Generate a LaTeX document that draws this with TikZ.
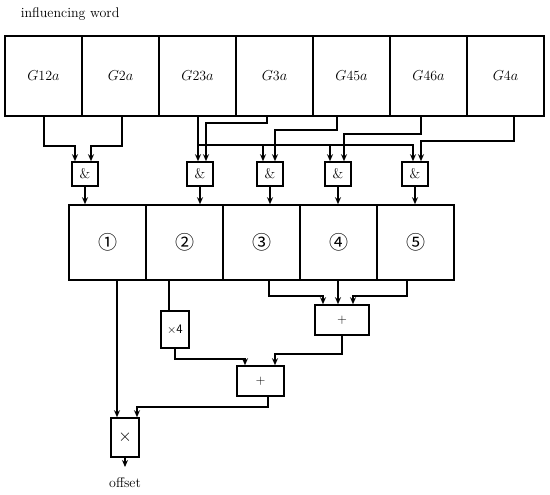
\documentclass[tikz,border=0pt]{standalone}
\usepackage{fontspec}
\newfontfamily\circfont{Noto Sans CJK SC}
\usetikzlibrary{arrows.meta,calc}

\tikzset{
  wordbox/.style={draw, minimum width=77pt, minimum height=80pt, inner sep=0pt, font=\fontsize{14}{16}\selectfont},
  andbox/.style={draw, minimum width=26pt, minimum height=24pt, inner sep=0pt, font=\fontsize{14}{16}\selectfont},
  casebox/.style={draw, minimum width=77pt, minimum height=75pt, inner sep=0pt, font=\circfont\fontsize{19}{21}\selectfont},
  opbox/.style={draw, inner sep=0pt, font=\fontsize{13}{15}\selectfont},
  arr/.style={-{Stealth[length=7pt,width=6pt]}},
}

\begin{document}
\begin{tikzpicture}[x=1pt, y=-1pt, line width=1.6pt]
\useasboundingbox (0,0) rectangle (550,495);

\node[anchor=base west, inner sep=0pt, font=\fontsize{14}{16}\selectfont] (title) at (20,18) {influencing word};

% input words
\foreach \i/\name/\idx in {1/g12/12, 2/g2/2, 3/g23/23, 4/g3/3, 5/g45/45, 6/g46/46, 7/g4/4}
  \node[wordbox] (\name) at ({5+77*(\i-0.5)},76) {$G$\idx$a$};

% and gates
\foreach \i/\x in {1/85, 2/200, 3/270, 4/338, 5/415}
  \node[andbox] (and\i) at (\x,174) {\&};

% cases
\foreach \i/\sym in {1/①, 2/②, 3/③, 4/④, 5/⑤}
  \node[casebox] (c\i) at ({69+77*(\i-0.5)},242.5) {\sym};

% operators
\node[opbox, minimum width=28pt, minimum height=37pt, font=\sffamily\fontsize{13}{15}\selectfont] (mul4) at (175,329.5) {$\times$4};
\node[opbox, minimum width=54pt, minimum height=30pt] (add1) at (342,320) {+};
\node[opbox, minimum width=47pt, minimum height=30pt] (add2) at (260.5,381) {+};
\node[opbox, minimum width=28pt, minimum height=39pt, font=\fontsize{19}{21}\selectfont] (mul) at (125,437.5) {$\times$};
\node[anchor=north, inner sep=0pt, font=\fontsize{14}{16}\selectfont] (out) at (125,477) {offset};

% where the words leave and the gates take them
\coordinate (g12o) at ($(g12.south)+(0.5,0)$);
\coordinate (g2o) at ($(g2.south)+(1.5,0)$);
\coordinate (g23o) at ($(g23.south)+(0.5,0)$);
\coordinate (g3o) at ($(g3.south)+(-7.5,0)$);
\coordinate (g45o) at ($(g45.south)+(-14.5,0)$);
\coordinate (g46o) at ($(g46.south)+(-7.5,0)$);
\coordinate (g4o) at ($(g4.south)+(8.5,0)$);
\coordinate (a1l) at ($(and1.north)+(-10,0)$);
\coordinate (a1r) at ($(and1.north)+(6,0)$);
\coordinate (a2r) at ($(and2.north)+(6,0)$);
\coordinate (a3l) at ($(and3.north)+(-7,0)$);
\coordinate (a3r) at ($(and3.north)+(5,0)$);
\coordinate (a4l) at ($(and4.north)+(-8,0)$);
\coordinate (a4r) at ($(and4.north)+(6,0)$);
\coordinate (a5l) at ($(and5.north)+(-2,0)$);
\coordinate (a5r) at ($(and5.north)+(6,0)$);

\draw[arr] (g12o) -- (g12o |- 0,146) -| (a1l);
\draw[arr] (g2o) -- (g2o |- 0,146) -| (a1r);
\draw[arr] (g23o) -- (g23o |- and2.north);
\draw[arr] (g23o |- 0,145) -| (a5l);
\draw[arr] (a3l |- 0,145) -- (a3l);
\draw[arr] (a4l |- 0,145) -- (a4l);
\draw[arr] (g3o) -- (g3o |- 0,123) -| (a2r);
\draw[arr] (g45o) -- (g45o |- 0,130) -| (a3r);
\draw[arr] (g46o) -- (g46o |- 0,134) -| (a4r);
\draw[arr] (g4o) -- (g4o |- 0,141) -| (a5r);

\foreach \i in {1,...,5}
  \draw[arr] (and\i.south) -- (and\i.south |- c\i.north);

% combining the cases
\coordinate (c1o) at ($(c1.south)+(9.5,0)$);
\coordinate (c2o) at ($(c2.south)+(-15.5,0)$);
\coordinate (c3o) at ($(c3.south)+(7.5,0)$);
\coordinate (c4o) at ($(c4.south)+(-0.5,0)$);
\coordinate (c5o) at ($(c5.south)+(-8.5,0)$);
\coordinate (p1l) at ($(add1.north)+(-19,0)$);
\coordinate (p1r) at ($(add1.north)+(11,0)$);
\coordinate (p2l) at ($(add2.north)+(-15.5,0)$);
\coordinate (p2r) at ($(add2.north)+(14.5,0)$);
\coordinate (add2o) at ($(add2.south)+(7.5,0)$);
\coordinate (xl) at ($(mul.north)+(-8,0)$);
\coordinate (xr) at ($(mul.north)+(12,0)$);

\draw[arr] (c1o) -- (c1o |- mul.north);
\draw (c2o) -- (c2o |- mul4.north);
\draw[arr] (c3o) -- (c3o |- 0,296) -| (p1l);
\draw[arr] (c4o) -- (c4o |- add1.north);
\draw[arr] (c5o) -- (c5o |- 0,296) -| (p1r);
\draw[arr] (mul4.south) -- (mul4.south |- 0,359) -| (p2l);
\draw[arr] (add1.south) -- (add1.south |- 0,354) -| (p2r);
\draw[arr] (add2o) -- (add2o |- 0,407) -| (xr);
\draw[arr] (mul.south) -- ([yshift=10pt]out.north);
\end{tikzpicture}
\end{document}
